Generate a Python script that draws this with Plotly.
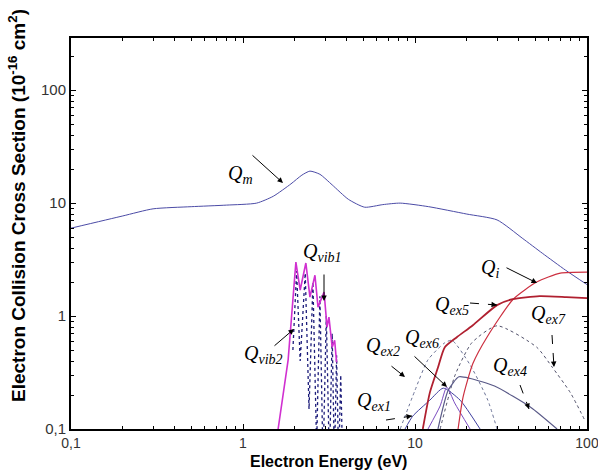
import plotly.graph_objects as go

# ---------------- data ----------------
Qm_E = [0.1, 0.2, 0.3, 0.5, 0.8, 1.2, 1.5, 1.9, 2.2, 2.45, 2.8, 3.3, 4.1, 5.1, 6.5, 8.2, 12, 20, 30, 42, 55, 75, 100]
Qm_V = [6.0, 7.7, 8.9, 9.3, 9.6, 10.0, 11.5, 14.8, 17.7, 19.2, 18.0, 14.5, 10.8, 9.2, 9.7, 10.0, 9.3, 8.0, 7.1, 4.9, 3.6, 2.55, 1.9]

Qvib2_E = [1.6, 1.83, 1.95, 2.03, 2.15, 2.32, 2.45, 2.62, 2.73, 2.96, 3.08, 3.16, 3.3, 3.41, 3.5]
Qvib2_V = [0.1, 0.41, 1.39, 3.0, 1.7, 2.95, 1.47, 2.3, 1.2, 1.63, 0.8, 0.98, 0.53, 0.61, 0.39]

Qvib1_E = [1.95, 2.05, 2.15, 2.3, 2.42, 2.55, 2.68, 2.8, 2.92, 3.05, 3.18, 3.3, 3.4, 3.5, 3.6, 3.7, 3.8]
Qvib1_V = [0.5, 2.5, 0.4, 2.4, 0.15, 2.0, 0.07, 1.5, 0.05, 1.0, 0.05, 0.7, 0.05, 0.45, 0.05, 0.3, 0.05]

Qex5_E = [11.1, 12.2, 13.6, 14.9, 17.5, 21.7, 30, 37, 53, 76, 100]
Qex5_V = [0.1, 0.21, 0.35, 0.53, 0.65, 0.83, 1.25, 1.41, 1.50, 1.47, 1.44]

Qi_E = [17.8, 19.0, 21.7, 26.2, 37.2, 51, 70, 100]
Qi_V = [0.1, 0.19, 0.38, 0.65, 1.41, 2.0, 2.4, 2.45]

Qex7_E = [14.0, 17.1, 21.4, 30, 51, 63, 80, 97]
Qex7_V = [0.1, 0.30, 0.58, 0.82, 0.53, 0.35, 0.21, 0.12]

Qex2_E = [8.2, 10, 11.9, 14.9, 16.4, 20.9, 26.5, 30]
Qex2_V = [0.1, 0.22, 0.41, 0.58, 0.61, 0.37, 0.18, 0.1]

Qex4_E = [13.6, 15.6, 18, 21, 29, 47, 67]
Qex4_V = [0.1, 0.22, 0.29, 0.28, 0.24, 0.156, 0.1]

Qex6_E = [11.9, 14, 15.3, 17, 20.9]
Qex6_V = [0.1, 0.16, 0.235, 0.17, 0.1]

Qex1_E = [8.75, 9.7, 12.2, 14.6, 18.3, 23.9]
Qex1_V = [0.1, 0.13, 0.18, 0.23, 0.18, 0.1]

tick_vals = [0.1, 1, 10, 100]
tick_text = ["0,1", "1", "10", "100"]
minor_vals = [m * d for d in (0.1, 1, 10, 100) for m in range(2, 10)]

# ---------------- figure ----------------
PAGE_W, PAGE_H = 598, 475
L, R, T, B = 71, 11, 38, 46  # plot area in page pixels
PW, PH = PAGE_W - L - R, PAGE_H - T - B


def P(px, py):
    return (px - L) / PW, (PAGE_H - B - py) / PH


fig = go.Figure()


def add(x, y, color, width, dash="solid", shape="linear"):
    fig.add_trace(go.Scatter(x=x, y=y, mode="lines",
                             line=dict(color=color, width=width, dash=dash, shape=shape,
                                       smoothing=0.6),
                             showlegend=False, hoverinfo="skip"))


add(Qm_E, Qm_V, "#4b4ba6", 1.0, "solid", "spline")
add(Qvib1_E, Qvib1_V, "#1c1c7a", 1.3, "dot")
add(Qvib2_E, Qvib2_V, "#d030d0", 1.6)
add(Qex2_E, Qex2_V, "#6a7296", 1.0, "dot", "spline")
add(Qex7_E, Qex7_V, "#50506a", 1.0, "dot", "spline")
add(Qex1_E, Qex1_V, "#4040a0", 1.0, "solid", "spline")
add(Qex6_E, Qex6_V, "#7a4cc0", 1.0, "solid", "spline")
add(Qex4_E, Qex4_V, "#5a5a88", 1.2, "solid", "spline")
add(Qi_E, Qi_V, "#cc3040", 1.2, "solid", "spline")
add(Qex5_E, Qex5_V, "#b02030", 1.8, "solid", "spline")

axis_common = dict(type="log", showgrid=False, zeroline=False, showline=True,
                   linecolor="black", linewidth=2, mirror="ticks", automargin=False,
                   ticks="inside", ticklen=5, tickwidth=1.2, tickcolor="black",
                   tickvals=tick_vals, ticktext=tick_text, ticklabeloverflow="allow",
                   minor=dict(ticks="inside", ticklen=3, tickwidth=1, tickcolor="black",
                              tickvals=minor_vals, showgrid=False))

fig.update_xaxes(range=[-1, 2],
                 tickfont=dict(family="Liberation Sans", size=14, color="#333333"),
                 **axis_common)
fig.update_yaxes(range=[-1, 2.462],
                 tickfont=dict(family="Liberation Sans", size=15, color="#333333"),
                 **axis_common)

ann = []


def label(txt, sub, px, py):
    x, y = P(px, py)
    ann.append(dict(x=x, y=y, xref="paper", yref="paper", showarrow=False,
                    text="<i>%s</i><sub><i>%s</i></sub>" % (txt, sub),
                    font=dict(family="Liberation Serif", size=20, color="black"),
                    xanchor="center", yanchor="middle"))


def arrow(tx, ty, hx, hy):
    x, y = P(hx, hy)
    ann.append(dict(x=x, y=y, xref="paper", yref="paper", showarrow=True, text="",
                    ax=tx - hx, ay=ty - hy, axref="pixel", ayref="pixel",
                    arrowhead=2, arrowsize=1.1, arrowwidth=1, arrowcolor="black"))


shapes = []


def darrow(tx, ty, hx, hy):
    # dashed shaft + short solid head
    x0, y0 = P(tx, ty)
    x1, y1 = P(hx, hy)
    shapes.append(dict(type="line", xref="paper", yref="paper", x0=x0, y0=y0, x1=x1, y1=y1,
                       line=dict(color="black", width=1, dash="dash")))
    dx, dy = tx - hx, ty - hy
    n = (dx * dx + dy * dy) ** 0.5
    ann.append(dict(x=x1, y=y1, xref="paper", yref="paper", showarrow=True, text="",
                    ax=dx / n * 6, ay=dy / n * 6, axref="pixel", ayref="pixel",
                    arrowhead=2, arrowsize=1.1, arrowwidth=1, arrowcolor="black"))


label("Q", "m", 240, 174)
arrow(251, 154, 283, 183)
label("Q", "vib1", 322, 252)
arrow(324, 273, 324, 301)
label("Q", "vib2", 263, 354)
arrow(273, 347, 294, 329)
label("Q", "ex2", 383, 346)
arrow(390, 365, 405, 377)
label("Q", "ex6", 422, 338)
arrow(413, 355, 447, 387)
label("Q", "ex1", 374, 401)
darrow(386, 420, 412, 416)
label("Q", "ex5", 452, 305)
darrow(470, 303, 497, 305)
label("Q", "i", 490, 268)
arrow(505, 267, 537, 283)
label("Q", "ex7", 548, 314)
darrow(552, 335, 554, 367)
label("Q", "ex4", 510, 366)
darrow(520, 385, 529, 409)

ann.append(dict(x=P(328, 0)[0], y=P(0, 461)[1], xref="paper", yref="paper", showarrow=False,
                text="<b>Electron Energy (eV)</b>",
                font=dict(family="Liberation Sans", size=16, color="black"),
                xanchor="center", yanchor="middle"))
ann.append(dict(x=P(17, 0)[0], y=P(0, 206)[1], xref="paper", yref="paper", showarrow=False,
                text="<b>Electron Collision Cross Section (10<sup>-16</sup> cm<sup>2</sup>)</b>",
                textangle=-90,
                font=dict(family="Liberation Sans", size=19, color="black"),
                xanchor="center", yanchor="middle"))

fig.update_layout(width=PAGE_W, height=PAGE_H, autosize=False,
                  margin=dict(l=L, r=R, t=T, b=B, autoexpand=False),
                  paper_bgcolor="white", plot_bgcolor="white",
                  annotations=ann, shapes=shapes)

fig.write_html("out.html", config={"displayModeBar": False, "responsive": False},
               post_script="document.body.style.margin='0px';"
                           "document.body.style.overflow='hidden';")
